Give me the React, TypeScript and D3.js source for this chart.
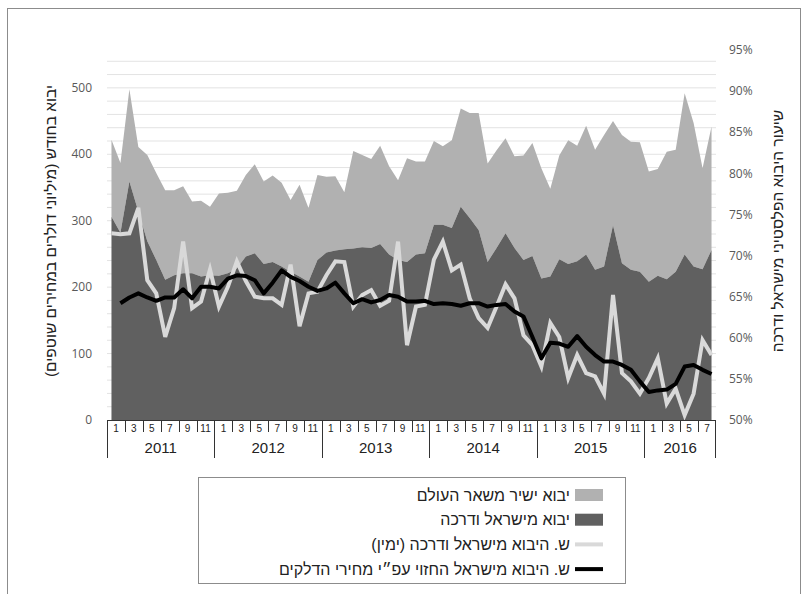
import React from 'react';
import * as d3 from 'd3';

// monthly values, Jan 2011 .. Aug 2016
const years = [2011, 2012, 2013, 2014, 2015, 2016];

// imports from / through Israel (million USD)
const israelImports = [
  306, 282, 359, 314, 269, 241, 211, 218, 221, 221, 216, 218,
  217, 221, 228, 246, 251, 235, 238, 231, 223, 216, 208, 241,
  252, 255, 257, 258, 260, 259, 265, 249, 241, 238, 249, 251,
  294, 294, 289, 321, 304, 286, 238, 259, 281, 259, 241, 247,
  213, 216, 242, 235, 239, 249, 226, 231, 293, 236, 226, 223,
  208, 217, 212, 223, 249, 231, 227, 256,
];

// direct imports from rest of world (million USD)
const worldImports = [
  116, 105, 139, 97, 130, 131, 135, 128, 131, 108, 114, 103,
  124, 121, 117, 123, 134, 124, 130, 126, 108, 138, 111, 128,
  114, 112, 86, 147, 139, 134, 148, 133, 120, 156, 140, 138,
  126, 118, 132, 148, 158, 176, 148, 147, 143, 138, 157, 170,
  166, 132, 156, 186, 174, 194, 181, 198, 157, 193, 193, 195,
  166, 161, 192, 184, 243, 216, 152, 186,
];

// share of imports from Israel (%), right axis
const actualShare = [
  72.7, 72.6, 72.7, 75.8, 67.0, 65.4, 60.1, 63.6, 71.7, 63.6, 64.4, 68.3,
  63.8, 66.2, 69.3, 66.9, 65.0, 64.8, 64.8, 64.0, 68.9, 61.4, 65.4, 65.6,
  67.6, 69.3, 69.2, 63.8, 65.2, 65.8, 63.9, 64.5, 71.7, 59.1, 63.8, 64.0,
  69.5, 71.7, 68.2, 68.9, 64.8, 62.4, 61.2, 63.8, 66.5, 64.8, 60.3, 59.1,
  56.5, 61.8, 60.1, 55.1, 57.9, 55.7, 55.3, 53.2, 65.2, 55.7, 54.7, 53.2,
  55.1, 57.5, 52.0, 53.8, 50.6, 53.2, 59.7, 57.9,
];

// predicted share by fuel prices (%), right axis
const predictedShare = [
  null, 64.2, 64.9, 65.4, 64.9, 64.5, 64.9, 64.9, 65.9, 64.8, 66.2, 66.2,
  66.0, 67.2, 67.6, 67.5, 67.0, 65.4, 66.7, 68.2, 67.4, 66.9, 66.2, 65.7,
  66.0, 66.7, 65.4, 64.2, 64.7, 64.3, 64.6, 65.2, 65.0, 64.4, 64.4, 64.5,
  64.1, 64.2, 64.1, 63.9, 64.2, 64.2, 63.8, 64.0, 64.1, 63.2, 62.6, 60.1,
  57.5, 59.4, 59.3, 58.9, 60.2, 58.9, 57.9, 57.1, 57.1, 56.7, 56.1, 54.7,
  53.4, 53.6, 53.7, 54.4, 56.5, 56.7, 56.1, 55.6,
];

const leftTicks = [0, 100, 200, 300, 400, 500];
const rightTicks = [50, 55, 60, 65, 70, 75, 80, 85, 90, 95];

const legendLabels = [
  'יבוא ישיר משאר העולם',
  'יבוא מישראל ודרכה',
  'ש. היבוא מישראל ודרכה (ימין)',
  'ש. היבוא מישראל החזוי עפ״י מחירי הדלקים',
];

const W = 808;
const H = 594;
const plot = { left: 107, right: 716, top: 48, bottom: 420 };

const hebFont = '"Liberation Sans", Arial, sans-serif';
const numFont = '"Open Sans", "DejaVu Sans", sans-serif';

const darkFill = '#606060';
const lightFill = '#b1b1b1';
const whiteLine = '#d9d9d9';

export default function App() {
  const n = israelImports.length;
  const idx = d3.range(n);

  const x = d3.scaleBand<number>().domain(idx).range([plot.left, plot.right]).padding(0);
  const bw = x.bandwidth();
  const cx = (i: number) => (x(i) as number) + bw / 2;

  const y = d3.scaleLinear().domain([0, 560]).range([plot.bottom, plot.top]);
  const yR = d3.scaleLinear().domain([50, 95]).range([plot.bottom, 50]);

  const rows = idx.map(i => ({ i, israel: israelImports[i], world: worldImports[i] }));
  const stacked = d3.stack<any>().keys(['israel', 'world'])(rows);

  const area = d3.area<any>()
    .x(d => cx(d.data.i))
    .y0(d => y(d[0]))
    .y1(d => y(d[1]));

  const line = d3.line<any>()
    .defined(d => d.v != null)
    .x(d => cx(d.i))
    .y(d => yR(d.v));

  const actualPts = idx.map(i => ({ i, v: actualShare[i] }));
  const predPts = idx.map(i => ({ i, v: predictedShare[i] }));

  const grid = d3.range(20, 560, 20);

  // category axis pieces
  const monthCells = idx.filter(i => i % 2 === 0);
  const yearStarts = years.map((yr, k) => k * 12);

  const legendX = 603;
  const legendY0 = 495;
  const legendStep = 24.7;

  return (
    <svg width={W} height={H} style={{ position: 'absolute', left: 0, top: 0, background: '#fff' }}>
      <rect x={7.5} y={8.5} width={793} height={600} fill="#fff" stroke="#8c8c8c" strokeWidth={1} />

      {/* gridlines */}
      {grid.map(g => (
        <line key={g} x1={plot.left} x2={plot.right} y1={y(g)} y2={y(g)} stroke="#e3e3e3" strokeWidth={1} />
      ))}

      {/* stacked areas */}
      <path d={area(stacked[1]) || ''} fill={lightFill} />
      <path d={area(stacked[0]) || ''} fill={darkFill} />

      {/* lines */}
      <path d={line(actualPts) || ''} fill="none" stroke={whiteLine} strokeWidth={4} strokeLinejoin="miter" />
      <path d={line(predPts) || ''} fill="none" stroke="#000" strokeWidth={4} strokeLinejoin="round" />

      {/* left axis labels */}
      {leftTicks.map(t => (
        <text key={t} x={92} y={y(t)} dy="0.35em" textAnchor="end" fontFamily={numFont} fontSize={12} fill="#595959">{t}</text>
      ))}

      {/* right axis labels */}
      {rightTicks.map(t => (
        <text key={t} x={729} y={yR(t)} dy="0.35em" textAnchor="start" fontFamily={numFont} fontSize={12} fill="#595959">{t}%</text>
      ))}

      {/* axis titles */}
      <text transform={`translate(56, 231) rotate(-90)`} textAnchor="middle" fontFamily={hebFont} fontSize={15.5} fill="#222"
        style={{ direction: 'rtl', unicodeBidi: 'embed' }}>
        יבוא בחודש (מיליוני דולרים במחירים שוטפים)
      </text>
      <text transform={`translate(783, 231) rotate(-90)`} textAnchor="middle" fontFamily={hebFont} fontSize={15.5} fill="#222"
        style={{ direction: 'rtl', unicodeBidi: 'embed' }}>
        שיעור היבוא הפלסטיני מישראל ודרכה
      </text>

      {/* category axis: month cells and year blocks */}
      <line x1={plot.left} x2={plot.right} y1={plot.bottom + 0.5} y2={plot.bottom + 0.5} stroke="#333" strokeWidth={1} />
      {monthCells.map(i => (
        <g key={i}>
          <line x1={Math.round(x(i) as number) + 0.5} x2={Math.round(x(i) as number) + 0.5} y1={plot.bottom} y2={i % 12 === 0 ? 458 : 432} stroke="#333" strokeWidth={1} />
          <text x={(x(i) as number) + bw} y={428} dy="0.35em" textAnchor="middle" fontFamily={hebFont} fontSize={10} fill="#222">
            {(i % 12) + 1}
          </text>
        </g>
      ))}
      <line x1={plot.right - 0.5} x2={plot.right - 0.5} y1={plot.bottom} y2={458} stroke="#333" strokeWidth={1} />
      {years.map((yr, k) => {
        const s = yearStarts[k];
        const e = Math.min(s + 12, n);
        const mid = ((x(s) as number) + (x(e - 1) as number) + bw) / 2;
        return (
          <text key={yr} x={mid} y={448} dy="0.35em" textAnchor="middle" fontFamily={hebFont} fontSize={15} fill="#222">{yr}</text>
        );
      })}

      {/* legend */}
      <rect x={198.5} y={477.5} width={427} height={106} fill="#fff" stroke="#8c8c8c" strokeWidth={1} />
      {legendLabels.map((lab, k) => {
        const ly = legendY0 + k * legendStep;
        let swatch;
        if (k === 0) swatch = <rect x={legendX - 28} y={ly - 6} width={28} height={12} fill={lightFill} />;
        else if (k === 1) swatch = <rect x={legendX - 28} y={ly - 6} width={28} height={12} fill={darkFill} />;
        else swatch = <line x1={legendX - 28} x2={legendX} y1={ly} y2={ly} stroke={k === 2 ? whiteLine : '#000'} strokeWidth={4} />;
        return (
          <g key={k}>
            {swatch}
            <text x={570} y={ly} dy="0.35em" textAnchor="start" fontFamily={hebFont} fontSize={16} fill="#222"
              style={{ direction: 'rtl', unicodeBidi: 'embed' }}>
              {lab}
            </text>
          </g>
        );
      })}
    </svg>
  );
}
